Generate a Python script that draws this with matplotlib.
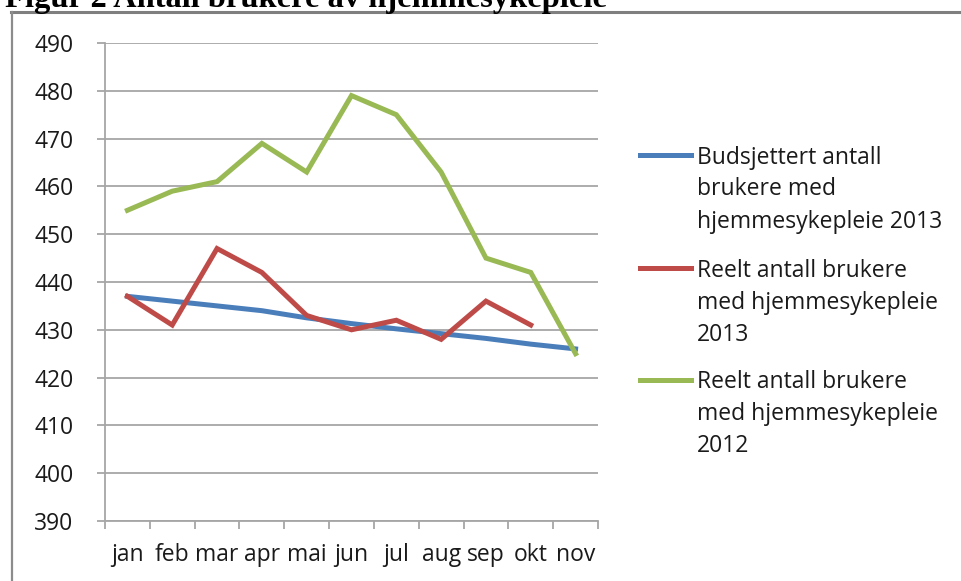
import matplotlib
matplotlib.use("Agg")
import matplotlib.pyplot as plt
from matplotlib.lines import Line2D

months = ["jan", "feb", "mar", "apr", "mai", "jun", "jul", "aug", "sep", "okt", "nov"]
budsjett_2013 = [437, 436, 435, 434, 432.5, 431.3, 430.2, 429.2, 428.2, 427, 426]
reelt_2013 = [437, 431, 447, 442, 433, 430, 432, 428, 436, 431]
reelt_2012 = [455, 459, 461, 469, 463, 479, 475, 463, 445, 442, 425]
yticks = list(range(390, 491, 10))
series_labels = [
    "Budsjettert antall\nbrukere med\nhjemmesykepleie 2013",
    "Reelt antall brukere\nmed hjemmesykepleie\n2013",
    "Reelt antall brukere\nmed hjemmesykepleie\n2012",
]
colors = ["#4A7EBB", "#BE4B48", "#98B954"]
title = "Figur 2 Antall brukere av hjemmesykepleie"

W, H = 962, 581
fig = plt.figure(figsize=(W / 100, H / 100), dpi=100)
fig.patch.set_facecolor("white")
FONT = "Open Sans"
FS = 16.5
TXT_C = "#1a1a1a"

def fx(px):
    return px / W

def fy(py):
    return 1 - py / H

ax = fig.add_axes([fx(105), fy(521), fx(598) - fx(105), fy(43) - fy(521)])
series = [budsjett_2013, reelt_2013, reelt_2012]
for vals, c in zip(series, colors):
    ax.plot(range(len(vals)), vals, color=c, lw=3.6, solid_joinstyle="miter", zorder=3)

grid_c = "#A6A6A6"
ax.set_xlim(-0.5, len(months) - 0.5)
ax.set_ylim(390, 490)
ax.set_yticks(yticks)
ax.set_yticklabels([str(v) for v in yticks])
ax.set_xticks(range(len(months)))
ax.set_xticklabels(months)
ax.set_xticks([i - 0.5 for i in range(len(months) + 1)], minor=True)
ax.yaxis.grid(True, color=grid_c, lw=1.3)
ax.set_axisbelow(True)
for s in ["top", "right"]:
    ax.spines[s].set_visible(False)
for s in ["left", "bottom"]:
    ax.spines[s].set_color(grid_c)
    ax.spines[s].set_linewidth(1.3)
ax.tick_params(axis="y", length=5.8, width=1.3, color=grid_c, pad=17,
               labelsize=FS, labelcolor=TXT_C)
ax.tick_params(axis="x", which="major", length=0, pad=16, labelsize=FS, labelcolor=TXT_C)
ax.tick_params(axis="x", which="minor", length=5.5, width=1.3, color=grid_c)
for lab in ax.get_xticklabels() + ax.get_yticklabels():
    lab.set_family(FONT)

# legend drawn manually (handle aligned with first text line)
first_baselines = [163.5, 276.7, 388]
for lbl, c, b in zip(series_labels, colors, first_baselines):
    hy = b - 8.5
    fig.add_artist(Line2D([fx(640), fx(691)], [fy(hy), fy(hy)], color=c, lw=3.6,
                          transform=fig.transFigure))
    for i, line in enumerate(lbl.split("\n")):
        fig.text(fx(697), fy(b + 32 * i), line, family=FONT, fontsize=FS,
                 color=TXT_C, va="baseline", ha="left")

# outer border (top and left visible)
fig.add_artist(Line2D([fx(11), fx(W + 5)], [fy(11.5), fy(11.5)], color="#7F7F7F", lw=2.2,
                      transform=fig.transFigure))
fig.add_artist(Line2D([fx(11.5), fx(11.5)], [fy(11.5), fy(H + 5)], color="#8C8C8C", lw=1.6,
                      transform=fig.transFigure))

# title, cropped at the top as in the source image
fig.text(fx(5), fy(7), title, family="Liberation Serif", fontweight="bold",
         fontsize=23.4, color="black", va="baseline", ha="left")

fig.savefig("out.png", dpi=100)
